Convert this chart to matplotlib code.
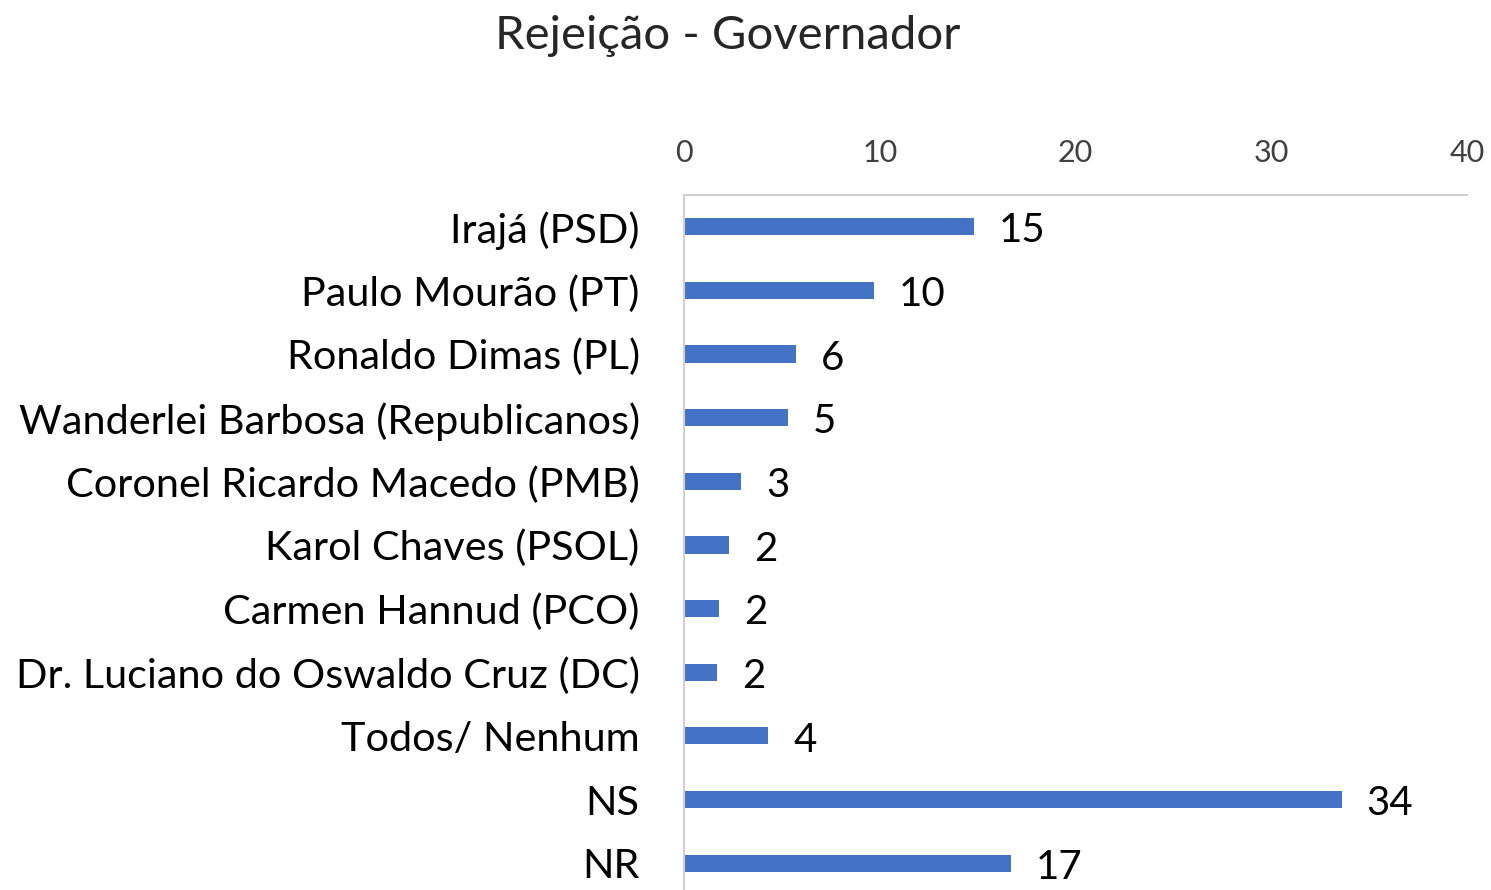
import numpy as np
import matplotlib.pyplot as plt

# Data (values in %, labels rounded)
candidates = [
    "Irajá (PSD)",
    "Paulo Mourão (PT)",
    "Ronaldo Dimas (PL)",
    "Wanderlei Barbosa (Republicanos)",
    "Coronel Ricardo Macedo (PMB)",
    "Karol Chaves (PSOL)",
    "Carmen Hannud (PCO)",
    "Dr. Luciano do Oswaldo Cruz (DC)",
    "Todos/ Nenhum",
    "NS",
    "NR",
]
rejection = [14.8, 9.7, 5.7, 5.3, 2.9, 2.3, 1.8, 1.7, 4.3, 33.6, 16.7]
value_labels = ["15", "10", "6", "5", "3", "2", "2", "2", "4", "34", "17"]
x_ticks = [0, 10, 20, 30, 40]

plt.rcParams['font.family'] = ['Lato', 'DejaVu Sans']

fig = plt.figure(figsize=(14.91, 8.9), dpi=100)
ax = fig.add_axes([0.4588, -0.0056, 0.5251, 0.7865])

y = np.arange(len(candidates))
ax.barh(y, rejection, height=0.27, color="#4472C4")

for yi, v, lab in zip(y, rejection, value_labels):
    ax.annotate(lab, (v, yi), xytext=(18, -3), textcoords="offset points",
                va="center", ha="left", fontsize=29, color="black")

ax.set_xlim(0, 40)
ax.set_ylim(len(candidates) - 0.5, -0.5)
ax.set_xticks(x_ticks)
ax.set_yticks(y)
ax.set_yticklabels(candidates, fontsize=29.8)
ax.xaxis.tick_top()
ax.tick_params(axis="x", labelsize=22, length=0, pad=20, colors="#404040")
ax.tick_params(axis="y", length=0, pad=32)
for lab in ax.get_xticklabels():
    lab.set_color("#404040")

for s in ["right", "bottom"]:
    ax.spines[s].set_visible(False)
for s in ["top", "left"]:
    ax.spines[s].set_color("#d0d0d0")
    ax.spines[s].set_linewidth(1.5)

fig.text(0.488, 0.96, "Rejeição - Governador", ha="center", va="center",
         fontsize=34, color="#262626")

fig.savefig("out.png", dpi=100)
